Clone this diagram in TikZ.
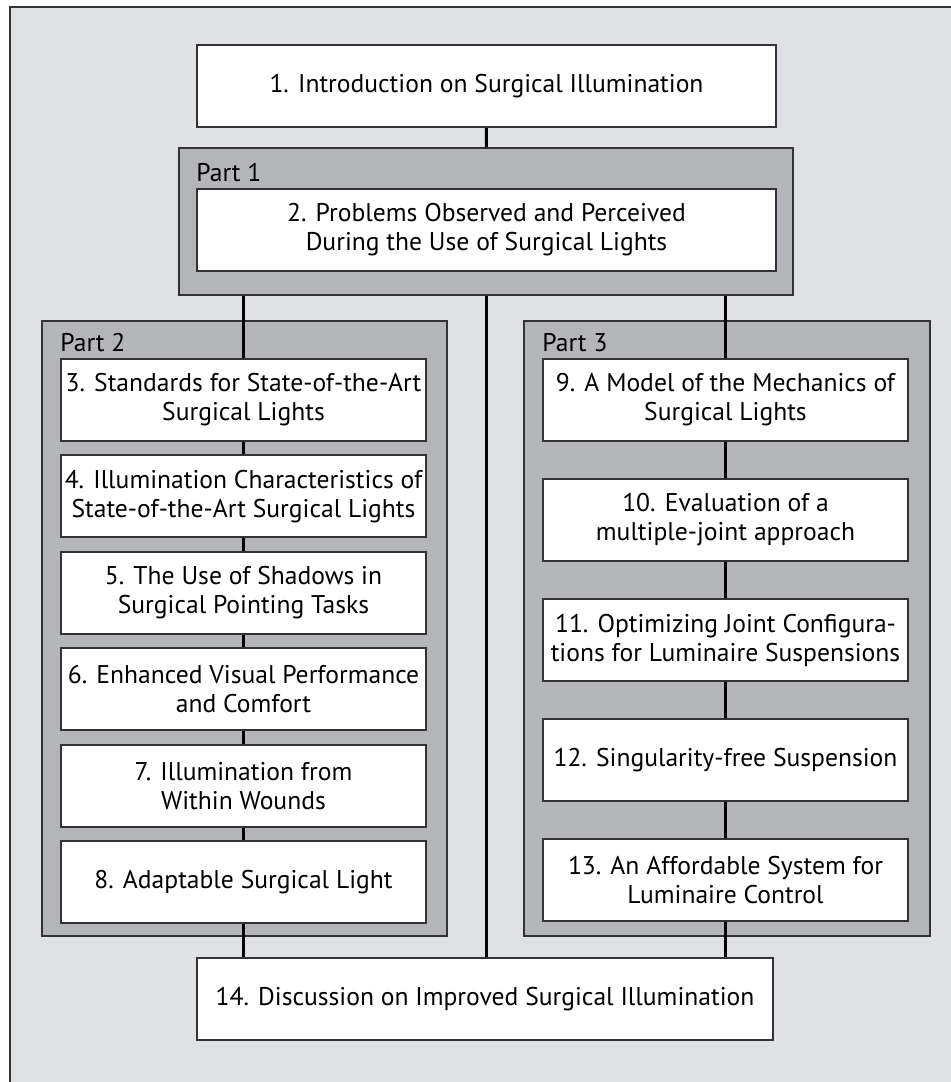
\documentclass[tikz,border=0pt]{standalone}
\usepackage{fontspec}
\setmainfont{PT Sans}
\usetikzlibrary{positioning}
\definecolor{pagegray}{HTML}{E0E1E5}
\definecolor{partgray}{HTML}{B4B5B9}
\definecolor{edgegray}{HTML}{333335}

\begin{document}
\begin{tikzpicture}[
  x=0.5pt, y=-0.5pt,
  every node/.style = {font=\fontsize{12.8}{14.5}\selectfont},
  chapter/.style = {shape=rectangle, draw=edgegray, line width=1pt,
    fill=white, align=center, inner sep=0pt,
    minimum width=182.5pt, minimum height=41pt},
  widechapter/.style = {chapter, minimum width=289.5pt},
  part/.style = {shape=rectangle, draw=edgegray, line width=1pt,
    fill=partgray, inner sep=0pt},
  partlabel/.style = {anchor=base west, inner sep=0pt},
  link/.style = {line width=1.5pt, black}]
  \useasboundingbox (0,0) rectangle (951,1082);
  \clip (0,0) rectangle (951,1082);
  % background frame, cut off at right and bottom
  \draw[edgegray, line width=1pt, fill=pagegray] (9.5,6.5) rectangle (990,1120);

  % the three parts
  \node (part1) [part, minimum width=307pt, minimum height=73.5pt] at (486,221.5) {};
  \node (part2) [part, minimum width=202.5pt, minimum height=307.5pt] at (244.5,628.5) {};
  \node (part3) [part, minimum width=203pt, minimum height=307.5pt] at (727,628.5) {};

  % chapters
  \node (intro) [widechapter] at (486.5,86) {1. Introduction on Surgical Illumination};
  \node (problems) [widechapter] at (486.5,230)
    {2. Problems Observed and Perceived\\During the Use of Surgical Lights};

  \node (stand) [chapter] at (243.5,400)
    {3. Standards for State-of-the-Art\\Surgical Lights};
  \node (charac) [chapter, below=6.2pt of stand]
    {4. Illumination Characteristics of\\State-of-the-Art Surgical Lights};
  \node (shadow) [chapter, below=6.2pt of charac]
    {5. The Use of Shadows in\\Surgical Pointing Tasks};
  \node (visual) [chapter, below=6.2pt of shadow]
    {6. Enhanced Visual Performance\\and Comfort};
  \node (wound) [chapter, below=6.2pt of visual]
    {7. Illumination from\\Within Wounds};
  \node (adapt) [chapter, below=6.2pt of wound]
    {8. Adaptable Surgical Light};

  \node (model) [chapter] at (725.5,400)
    {9. A Model of the Mechanics of\\Surgical Lights};
  \node (joint) [chapter, below=18pt of model]
    {10. Evaluation of a\\multiple-joint approach};
  \node (optim) [chapter, below=18pt of joint]
    {11. Optimizing Joint Configura-\\tions for Luminaire Suspensions};
  \node (singular) [chapter, below=18pt of optim]
    {12. Singularity-free Suspension};
  \node (afford) [chapter, below=18pt of singular]
    {13. An Affordable System for\\Luminaire Control};

  \node (discuss) [chapter, minimum width=288pt] at (485,999)
    {14. Discussion on Improved Surgical Illumination};

  % part labels
  \node (lab1) [partlabel] at ([yshift=3.5pt]problems.north west) {Part 1};
  \node (lab2) [partlabel] at ([yshift=3.5pt]stand.north west) {Part 2};
  \node (lab3) [partlabel] at ([yshift=3.5pt]model.north west) {Part 3};

  % connectors
  \draw[link] (intro) -- (part1);
  \draw[link] (part1.south) -- (part1.south |- discuss.north);
  \draw[link] (part1.south -| stand.north) -- (stand);
  \draw[link] (part1.south -| model.north) -- (model);
  \draw[link] (stand) -- (charac);
  \draw[link] (charac) -- (shadow);
  \draw[link] (shadow) -- (visual);
  \draw[link] (visual) -- (wound);
  \draw[link] (wound) -- (adapt);
  \draw[link] (adapt) -- (adapt.south |- discuss.north);
  \draw[link] (model) -- (joint);
  \draw[link] (joint) -- (optim);
  \draw[link] (optim) -- (singular);
  \draw[link] (singular) -- (afford);
  \draw[link] (afford) -- (afford.south |- discuss.north);
\end{tikzpicture}
\end{document}
